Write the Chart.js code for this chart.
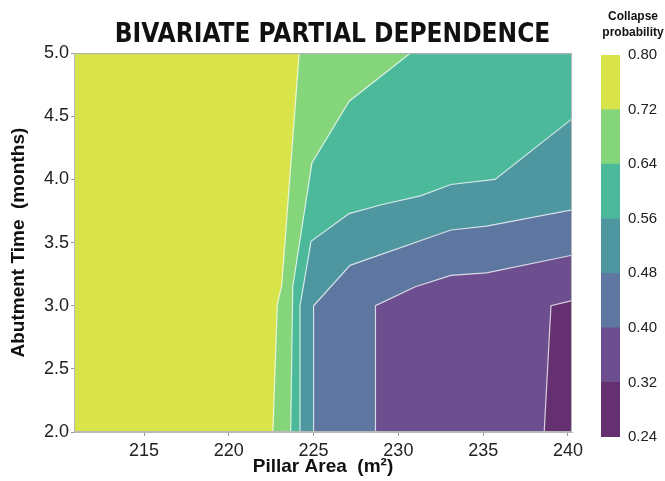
<!DOCTYPE html>
<html>
<head>
<meta charset="utf-8">
<script src="https://cdn.jsdelivr.net/npm/chart.js@4.4.1/dist/chart.umd.min.js"></script>
<style>
  html, body { margin: 0; padding: 0; background: #fff; }
  #wrap { position: relative; width: 665px; height: 481px; }
  #main { position: absolute; left: 0; top: 0; }
  #bar { position: absolute; left: 595px; top: 0; }
</style>
</head>
<body>
<div id="wrap">
  <canvas id="main" width="665" height="481"></canvas>
  <canvas id="bar" width="70" height="481"></canvas>
</div>
<script>
const levels = [0.24, 0.32, 0.40, 0.48, 0.56, 0.64, 0.72, 0.80]
const bandColors = ["#65306f", "#6d4f8f", "#5e77a1", "#4f97a0", "#4cb99b", "#85d57b", "#d9e44b"]
const xTicks = [215, 220, 225, 230, 235, 240]
const yTicks = [2.0, 2.5, 3.0, 3.5, 4.0, 4.5, 5.0]
const xMin = 210.87, xMax = 240.24, yMin = 2.0, yMax = 5.0

// contour lines (level boundaries), each one starts on the bottom edge
const c032x = [238.6, 239.0, 240.24]
const c032y = [2.0, 3.0, 3.04]
const c040x = [228.65, 228.65, 231.0, 233.1, 235.2, 240.24]
const c040y = [2.0, 3.0, 3.15, 3.24, 3.26, 3.40]
const c048x = [225.0, 225.0, 227.15, 233.1, 235.2, 240.24]
const c048y = [2.0, 3.0, 3.32, 3.60, 3.63, 3.76]
const c056x = [224.2, 224.2, 224.85, 227.1, 229.0, 231.3, 233.1, 235.7, 240.24]
const c056y = [2.0, 3.0, 3.51, 3.73, 3.80, 3.87, 3.96, 4.0, 4.48]
const c064x = [223.65, 223.77, 224.9, 227.1, 230.7]
const c064y = [2.0, 3.15, 4.13, 4.62, 5.0]
const c072x = [222.6, 222.86, 223.12, 224.15]
const c072y = [2.0, 3.01, 3.16, 5.0]

const contours = [[c032x, c032y], [c040x, c040y], [c048x, c048y], [c056x, c056y], [c064x, c064y], [c072x, c072y]]

const family = "'Liberation Sans', Arial, sans-serif"
const lineColor = "rgba(255,255,255,0.75)"

const toPoints = (xs, ys) => xs.map((x, j) => ({ x, y: ys[j] }))

// filled bands: each region sits above/left of its boundary
const fills = [{
  data: [{ x: xMin, y: yMin }, { x: xMax, y: yMin }],
  fill: "end",
  backgroundColor: bandColors[0],
  borderWidth: 0,
  pointRadius: 0
}]
contours.forEach(([xs, ys], i) => {
  fills.push({
    data: [{ x: xMin, y: yMin }].concat(toPoints(xs, ys)),
    fill: "end",
    backgroundColor: bandColors[i + 1],
    borderWidth: 0,
    pointRadius: 0,
    tension: 0
  })
})
fills.reverse()

// thin light contour lines on top
const lines = contours.map(([xs, ys]) => ({
  data: toPoints(xs, ys),
  fill: false,
  borderColor: lineColor,
  borderWidth: 1.2,
  pointRadius: 0,
  tension: 0
}))

const frame = {
  id: "frame",
  afterDatasetsDraw(chart) {
    const { ctx, chartArea: a } = chart
    ctx.save()
    ctx.strokeStyle = "#b8b8b8"
    ctx.lineWidth = 1
    ctx.strokeRect(a.left + 0.5, a.top + 0.5, a.right - a.left - 1, a.bottom - a.top - 1)
    ctx.restore()
  }
}

new Chart(document.getElementById("main"), {
  type: "line",
  data: { datasets: lines.concat(fills) },
  plugins: [frame],
  options: {
    responsive: false,
    animation: false,
    devicePixelRatio: 1,
    layout: { padding: 0 },
    plugins: {
      legend: { display: false },
      tooltip: { enabled: false },
      title: {
        display: true,
        text: "BIVARIATE PARTIAL DEPENDENCE",
        color: "#111",
        font: { family: "'Liberation Sans Narrow', 'DejaVu Sans Condensed', Roboto, sans-serif", size: 26, weight: "bold" },
        padding: { top: 20, bottom: 2 }
      }
    },
    scales: {
      x: {
        type: "linear",
        min: xMin,
        max: xMax,
        afterBuildTicks: s => { s.ticks = xTicks.map(v => ({ value: v })) },
        afterFit: s => { s.height = 49 },
        grid: { display: true, drawOnChartArea: false, tickLength: 4, color: "#9a9a9a" },
        border: { display: true, color: "#b8b8b8" },
        ticks: { font: { family, size: 18 }, color: "#222", padding: 4, maxRotation: 0, autoSkip: false },
        title: {
          display: true,
          text: "Pillar Area  (m²)",
          color: "#111",
          font: { family, size: 19, weight: "bold" },
          padding: { top: 0, bottom: 3 }
        }
      },
      y: {
        min: yMin,
        max: yMax,
        afterBuildTicks: s => { s.ticks = yTicks.map(v => ({ value: v })) },
        afterFit: s => { s.width = 74 },
        grid: { display: true, drawOnChartArea: false, tickLength: 3, color: "#9a9a9a" },
        border: { display: true, color: "#b8b8b8" },
        ticks: { font: { family, size: 18 }, color: "#222", padding: 2, callback: v => v.toFixed(1) },
        title: {
          display: true,
          text: "Abutment Time  (months)",
          color: "#111",
          font: { family, size: 19, weight: "bold" },
          padding: { top: 7, bottom: 0 }
        }
      },
      // empty right-hand space kept for the colour bar
      yr: {
        position: "right",
        display: true,
        afterFit: s => { s.width = 93 },
        grid: { display: false },
        border: { display: false },
        ticks: { display: false }
      }
    }
  }
})

// colour bar
new Chart(document.getElementById("bar"), {
  type: "bar",
  data: {
    labels: [""],
    datasets: bandColors.map((c, i) => ({
      data: [[levels[i], levels[i + 1]]],
      backgroundColor: c,
      borderWidth: 0,
      grouped: false,
      barPercentage: 1,
      categoryPercentage: 1
    }))
  },
  options: {
    responsive: false,
    animation: false,
    devicePixelRatio: 1,
    layout: { padding: { left: 6, right: 0, top: 0, bottom: 44 } },
    plugins: {
      legend: { display: false },
      tooltip: { enabled: false },
      title: {
        display: true,
        text: ["Collapse", "probability"],
        color: "#111",
        font: { family, size: 12, weight: "bold", lineHeight: 1.3 },
        padding: { top: 9, bottom: 14.8 }
      }
    },
    scales: {
      x: { display: false },
      y: {
        position: "right",
        min: levels[0],
        max: levels[levels.length - 1],
        afterBuildTicks: s => { s.ticks = levels.map(v => ({ value: v })) },
        afterFit: s => { s.width = 45 },
        grid: { display: false, drawTicks: false },
        border: { display: false },
        ticks: { font: { family, size: 15 }, color: "#222", padding: 8, callback: v => v.toFixed(2) }
      }
    }
  }
})
</script>
</body>
</html>
